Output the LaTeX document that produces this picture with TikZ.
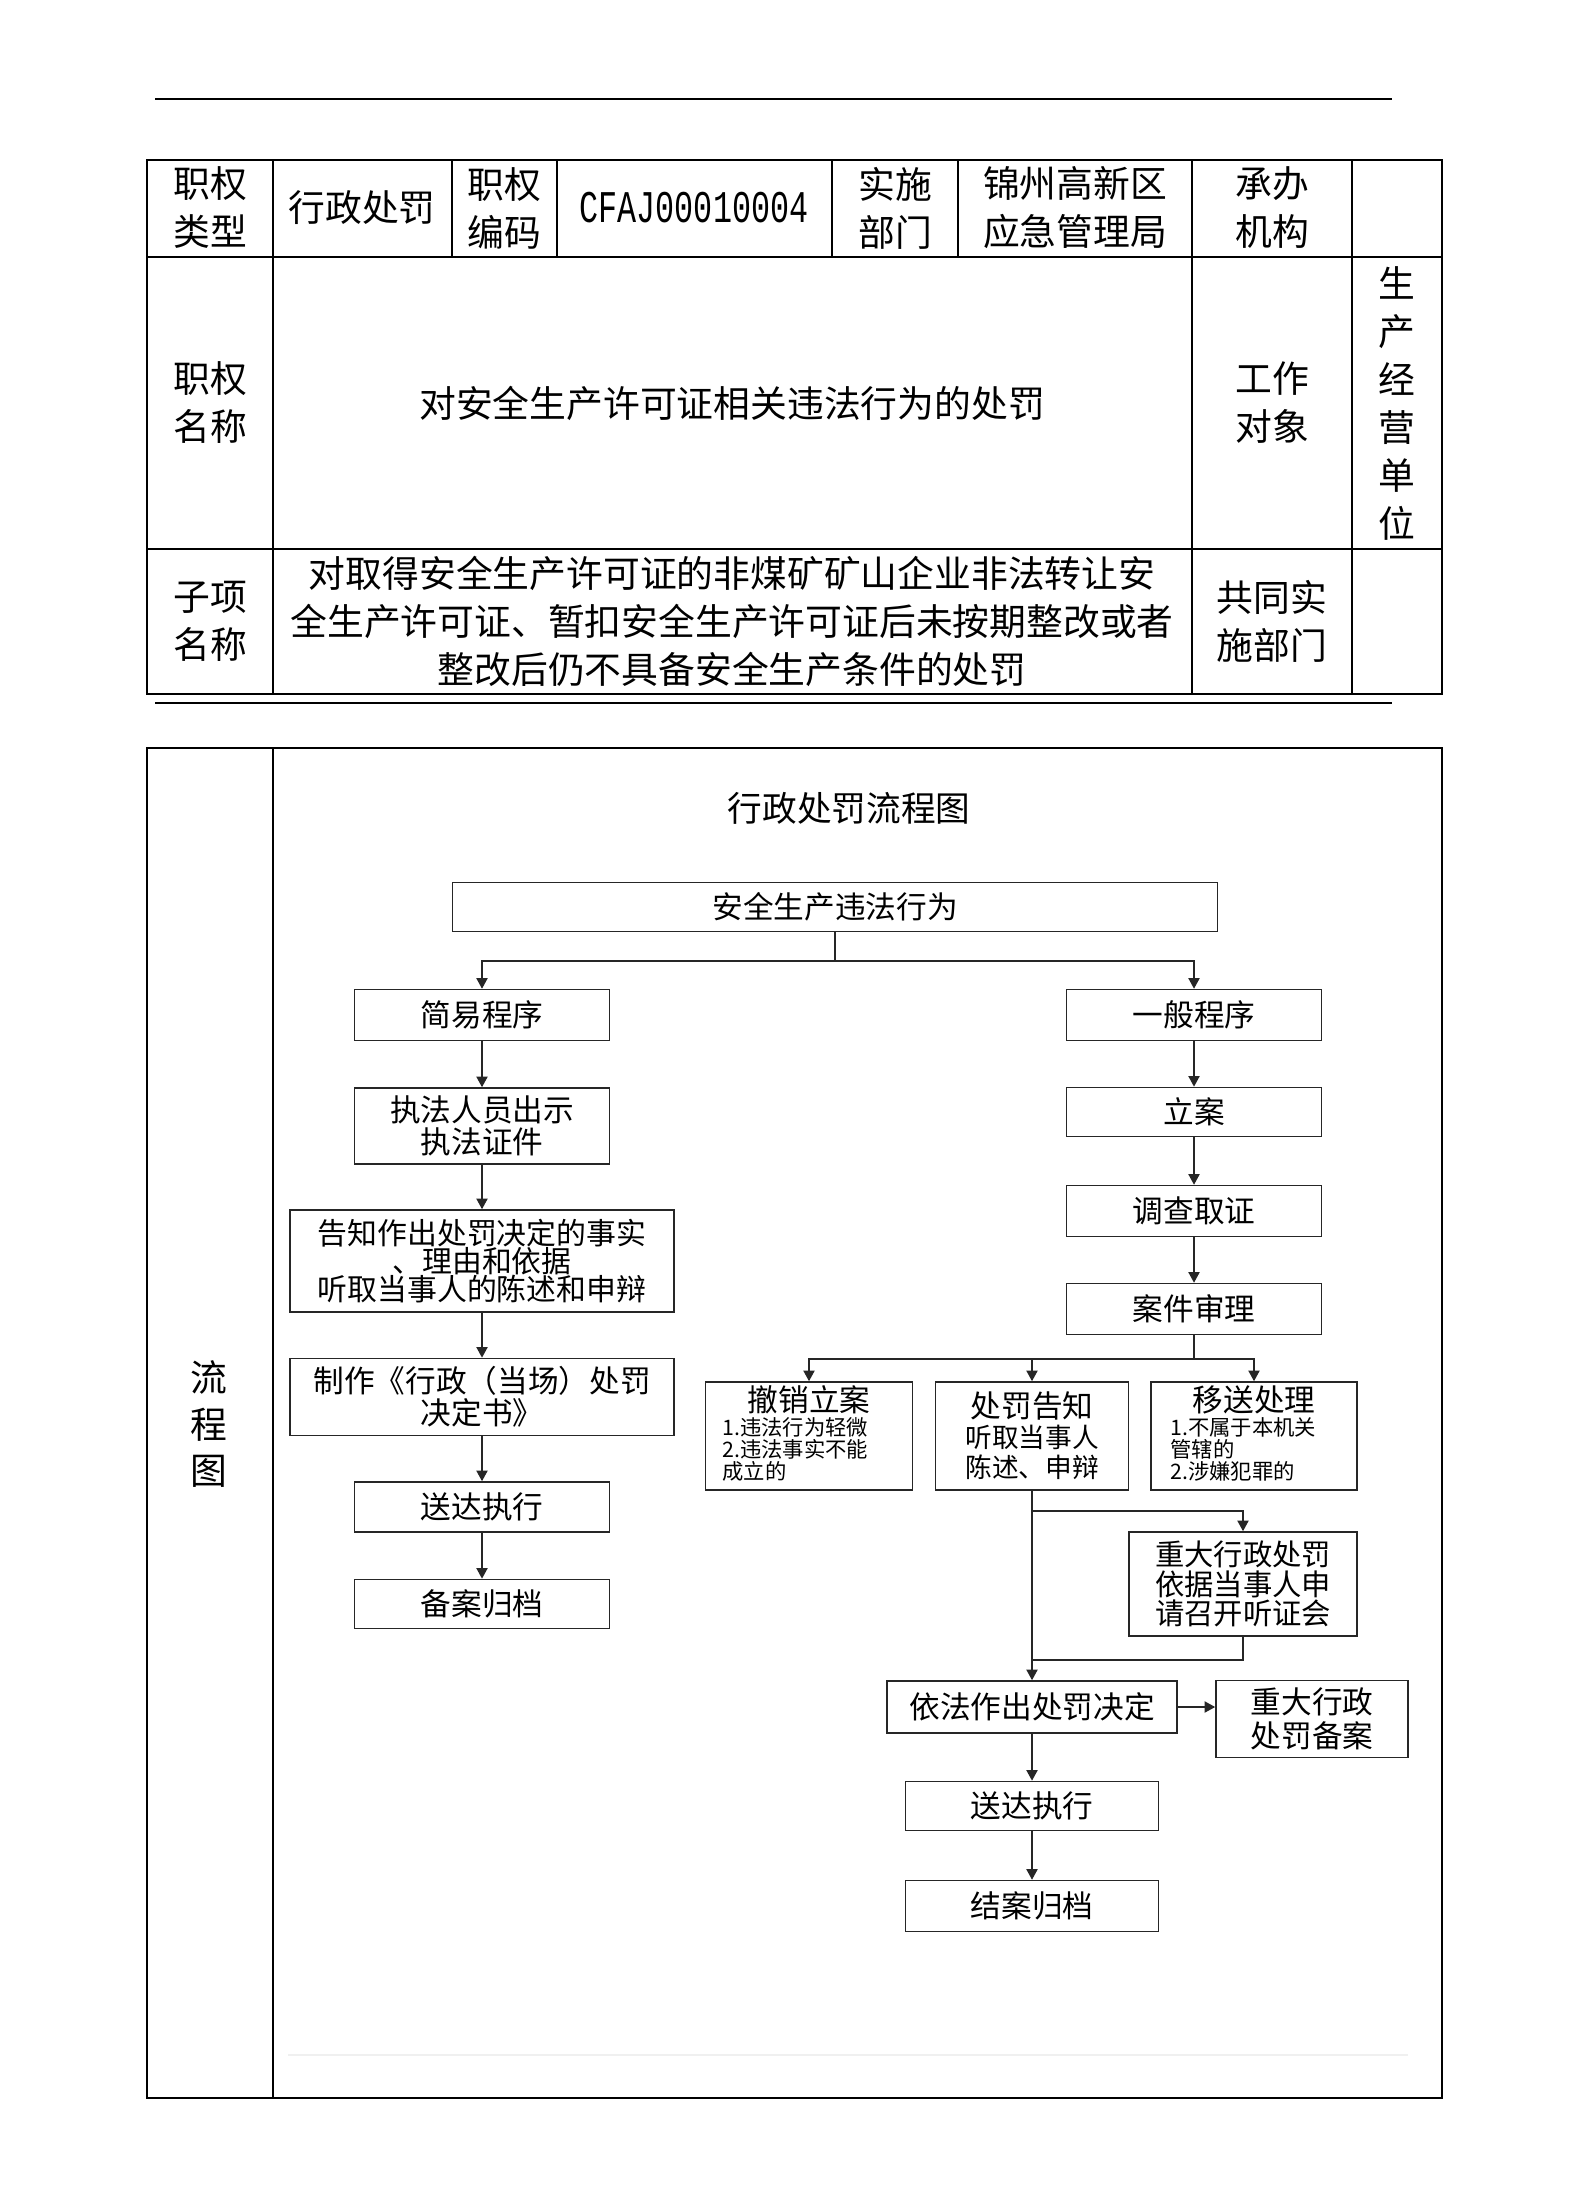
\documentclass[tikz,border=0pt]{standalone}
\usepackage{fontspec}
\setmainfont{Noto Sans CJK SC}
\newfontfamily\codefont{Liberation Mono}
\usetikzlibrary{arrows.meta,positioning}

\begin{document}
\begin{tikzpicture}[x=0.375pt,y=-0.375pt,
  cell/.style={inner sep=0pt,align=center,font=\fontsize{13.8}{18}\selectfont},
  flowbox/.style={draw=black!85,line width=0.6pt,inner sep=0pt,align=center,
    minimum width=95.6pt,minimum height=19.1pt,font=\fontsize{11.5}{12}\selectfont},
  boxtitle/.style={inner sep=0pt,font=\fontsize{11.5}{12}\selectfont},
  listtext/.style={inner sep=0pt,align=left,font=\fontsize{8}{8.3}\selectfont},
  flowline/.style={draw=black!85,line width=0.6pt},
  flowarrow/.style={flowline,-{Triangle[length=4pt,width=4.2pt]}}]
\useasboundingbox (0,0) rectangle (1587,2196);

% header table
\draw [line width=0.8pt] (155,99) -- (1392,99);
\draw [line width=0.8pt] (155,703) -- (1392,703);
\draw [line width=0.5pt] (147,160) rectangle (1442,694);
\draw [line width=0.5pt] (147,257) -- (1442,257);
\draw [line width=0.5pt] (147,549) -- (1442,549);
\foreach \x in {273,1192,1352}{
\draw [line width=0.5pt] (\x,160) -- (\x,694);
}
\foreach \x in {452,557,832,958}{
\draw [line width=0.5pt] (\x,160) -- (\x,257);
}

\node [cell] (lx) at (210,208) {职权\\类型};
\node [cell] (lxv) at (362,208) {行政处罚};
\node [cell] (bm) at (504,208) {职权\\编码};
\node [cell] (bmv) at (694,208) {\codefont\fontsize{17}{18}\selectfont\scalebox{0.7}[1]{CFAJ00010004}};
\node [cell] (bu) at (895,208) {实施\\部门};
\node [cell] (buv) at (1075,208) {锦州高新区\\应急管理局};
\node [cell] (jg) at (1272,208) {承办\\机构};

\node [cell] (mc) at (210,403) {职权\\名称};
\node [cell] (mcv) at (732,403) {对安全生产许可证相关违法行为的处罚};
\node [cell] (dx) at (1272,403) {工作\\对象};
\node [cell] (dxv) at (1397,403) {生\\产\\经\\营\\单\\位};

\node [cell] (zx) at (210,621) {子项\\名称};
\node [cell] (zxv) at (732,621) {对取得安全生产许可证的非煤矿矿山企业非法转让安\\全生产许可证、暂扣安全生产许可证后未按期整改或者\\整改后仍不具备安全生产条件的处罚};
\node [cell] (gt) at (1272,621) {共同实\\施部门};

% flow chart frame
\draw [line width=0.5pt] (147,748) rectangle (1442,2098);
\draw [line width=0.5pt] (273,748) -- (273,2098);
\draw [black!6] (288,2055) -- (1408,2055);
\node [cell,font=\fontsize{13.8}{17.6}\selectfont] (lct) at (209,1424) {流\\程\\图};
\node [font=\fontsize{13}{14}\selectfont,inner sep=0pt] (lctitle) at (849,808) {行政处罚流程图};

\node [flowbox,minimum width=287pt,minimum height=18.4pt] (wf) at (835,907) {安全生产违法行为};
\node [flowbox] (jy) at (482,1015) {简易程序};
\node [flowbox] (yb) at (1194,1015) {一般程序};
\node [flowbox,minimum height=28.5pt] (zf) at (482,1126) {执法人员出示\\执法证件};
\node [flowbox,minimum width=144pt,minimum height=38.25pt,font=\fontsize{11.2}{10.6}\selectfont] (gz) at (482,1261) {告知作出处罚决定的事实\\、理由和依据\\听取当事人的陈述和申辩};
\node [flowbox,minimum width=144pt,minimum height=28.9pt] (zz) at (482,1397) {制作《行政（当场）处罚\\决定书》};
\node [flowbox,minimum height=18.75pt] (sdL) at (482,1507) {送达执行};
\node [flowbox,minimum height=18.4pt] (ba) at (482,1604) {备案归档};

\node [flowbox,minimum height=18.4pt] (la) at (1194,1112) {立案};
\node [flowbox] (dc) at (1194,1211) {调查取证};
\node [flowbox] (aj) at (1194,1309) {案件审理};

\node [flowbox,minimum width=77.6pt,minimum height=40.5pt] (cx) at (809,1436) {};
\node [boxtitle,below=1.5pt of cx.north] (cxtitle) {撤销立案};
\node [listtext,anchor=north west] (cxlist) at (722,1417) {1.违法行为轻微\\2.违法事实不能\\成立的};
\node [flowbox,minimum width=72.4pt,minimum height=40.5pt,font=\fontsize{10}{11.3}\selectfont] (gzR) at (1032,1436) {{\fontsize{11.5}{12}\selectfont 处罚告知}\\听取当事人\\陈述、申辩};
\node [flowbox,minimum width=77.25pt,minimum height=40.5pt] (ys) at (1254,1436) {};
\node [boxtitle,below=1.5pt of ys.north] (ystitle) {移送处理};
\node [listtext,anchor=north west] (yslist) at (1170,1417) {1.不属于本机关\\管辖的\\2.涉嫌犯罪的};

\node [flowbox,minimum width=85.5pt,minimum height=39pt,font=\fontsize{11}{11}\selectfont] (zd) at (1243,1584) {重大行政处罚\\依据当事人申\\请召开听证会};
\node [flowbox,minimum width=108.75pt,minimum height=19.5pt] (yf) at (1032,1707) {依法作出处罚决定};
\node [flowbox,minimum width=72pt,minimum height=28.9pt,font=\fontsize{11.5}{12.6}\selectfont] (ba2) at (1312,1719) {重大行政\\处罚备案};
\node [flowbox,minimum width=94.9pt,minimum height=18.4pt] (sdR) at (1032,1806) {送达执行};
\node [flowbox,minimum width=94.9pt] (ja) at (1032,1906) {结案归档};

% connectors
\coordinate (splitT) at (835,961);
\draw [flowline] (wf.south) -- (splitT);
\draw [flowarrow] (splitT) -| (jy.north);
\draw [flowarrow] (splitT) -| (yb.north);
\foreach \a/\b in {jy/zf,zf/gz,gz/zz,zz/sdL,sdL/ba,yb/la,la/dc,dc/aj,yf/sdR,sdR/ja}{
\draw [flowarrow] (\a.south) -- (\b.north);
}
\coordinate (splitA) at (1194,1359);
\draw [flowline] (aj.south) -- (splitA);
\foreach \b in {cx,gzR,ys}{
\draw [flowarrow] (splitA) -| (\b.north);
}
\draw [flowarrow] (gzR.south) -- (yf.north);
\coordinate (splitB) at (1032,1511);
\draw [flowarrow] (splitB) -| (zd.north);
\coordinate (joinB) at (1032,1660);
\draw [flowline] (zd.south) |- (joinB);
\draw [flowarrow] (yf.east) -- (yf.east -| ba2.west);
\end{tikzpicture}
\end{document}
